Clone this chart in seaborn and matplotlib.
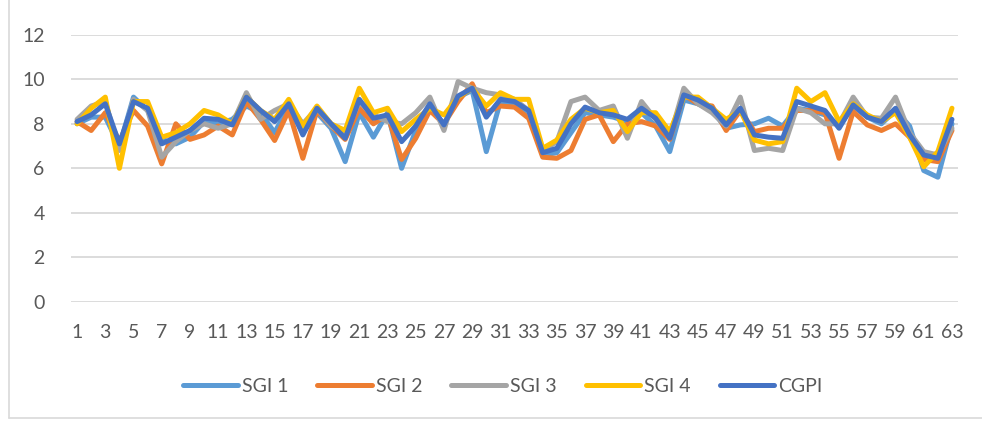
import pandas as pd
import numpy as np
import seaborn as sns
import matplotlib.pyplot as plt
from matplotlib.lines import Line2D

# Student index 1..63
students = list(range(1, 64))

sgi1 = [8.0, 8.3, 8.3, 7.0, 9.2, 8.6, 7.3, 7.1, 7.4, 8.1,
        8.0, 8.2, 8.8, 8.5, 7.6, 8.8, 7.6, 8.5, 7.8, 6.3,
        8.5, 7.4, 8.5, 6.0, 7.7, 8.7, 8.0, 9.2, 9.5, 6.75,
        9.0, 8.9, 8.5, 6.6, 6.7, 7.6, 8.5, 8.4, 8.3, 8.1,
        8.5, 7.9, 6.75, 9.07, 8.9, 8.6, 7.8, 7.95, 8.0, 8.25,
        7.9, 8.7, 8.6, 8.4, 7.9, 8.8, 8.3, 8.0, 8.6, 7.9,
        5.9, 5.6, 8.0]
sgi2 = [8.1, 7.7, 8.5, 7.2, 8.6, 7.9, 6.2, 8.0, 7.3, 7.5,
        7.9, 7.5, 9.0, 8.2, 7.25, 8.6, 6.45, 8.6, 7.9, 7.3,
        8.7, 8.0, 8.4, 6.4, 7.35, 8.6, 8.0, 9.0, 9.8, 8.5,
        8.8, 8.75, 8.25, 6.5, 6.45, 6.8, 8.2, 8.4, 7.2, 8.0,
        8.1, 7.9, 7.3, 9.3, 8.9, 8.8, 7.7, 8.6, 7.65, 7.8,
        7.8, 8.6, 8.6, 8.5, 6.45, 8.55, 7.95, 7.7, 8.0, 7.4,
        6.4, 6.3, 7.7]
sgi3 = [8.2, 8.8, 9.0, 6.8, 9.1, 8.6, 6.5, 7.2, 7.7, 8.0,
        7.8, 8.0, 9.4, 8.2, 8.6, 8.9, 8.0, 8.7, 7.9, 7.5,
        9.0, 8.4, 8.1, 8.0, 8.5, 9.2, 7.7, 9.9, 9.6, 9.4,
        9.3, 9.1, 8.6, 6.8, 7.2, 9.0, 9.2, 8.6, 8.8, 7.35,
        9.0, 8.2, 7.4, 9.6, 8.9, 8.5, 7.9, 9.2, 6.8, 6.9,
        6.8, 8.7, 8.5, 8.0, 8.0, 9.2, 8.3, 8.25, 9.2, 7.6,
        6.75, 6.6, 7.8]
sgi4 = [8.0, 8.7, 9.2, 6.0, 9.0, 9.0, 7.4, 7.6, 8.0, 8.6,
        8.4, 8.0, 9.2, 8.6, 8.2, 9.1, 7.9, 8.8, 8.0, 7.7,
        9.6, 8.5, 8.7, 7.65, 8.2, 8.7, 8.4, 9.2, 9.6, 8.8,
        9.4, 9.1, 9.1, 6.9, 7.27, 8.2, 8.7, 8.5, 8.6, 7.65,
        8.5, 8.5, 7.65, 9.2, 9.2, 8.7, 8.2, 8.6, 7.27, 7.1,
        7.2, 9.6, 9.0, 9.4, 8.1, 8.9, 8.4, 8.1, 8.5, 7.4,
        6.07, 6.75, 8.7]
cgpi = [8.1, 8.4, 8.9, 7.1, 9.0, 8.7, 7.1, 7.4, 7.7, 8.25,
        8.2, 7.95, 9.2, 8.6, 8.1, 8.9, 7.5, 8.7, 8.0, 7.35,
        9.1, 8.25, 8.4, 7.2, 7.9, 8.9, 7.95, 9.25, 9.6, 8.3,
        9.1, 9.0, 8.6, 6.7, 6.9, 8.0, 8.75, 8.5, 8.4, 8.2,
        8.7, 8.25, 7.35, 9.3, 9.07, 8.7, 7.95, 8.7, 7.5, 7.4,
        7.35, 9.0, 8.8, 8.6, 7.8, 8.85, 8.3, 8.1, 8.7, 7.5,
        6.6, 6.45, 8.2]

series_names = ["SGI 1", "SGI 2", "SGI 3", "SGI 4", "CGPI"]
colors = ["#5B9BD5", "#ED7D31", "#A5A5A5", "#FFC000", "#4472C4"]

# Long format for seaborn
df = pd.concat([
    pd.DataFrame({"student": students, "value": vals, "series": name})
    for name, vals in zip(series_names, [sgi1, sgi2, sgi3, sgi4, cgpi])
], ignore_index=True)

sns.set_style("white")
plt.rcParams["font.family"] = ["Lato", "DejaVu Sans"]

fig = plt.figure(figsize=(9.82, 4.21), dpi=100)
ax = fig.add_axes([0.0723, 0.2831, 0.9033, 0.6342])

sns.lineplot(data=df, x="student", y="value", hue="series",
             hue_order=series_names, palette=colors, linewidth=3.6,
             ax=ax, solid_capstyle="round", solid_joinstyle="round")

ax.set_xlim(0.57, 63.43)
ax.set_ylim(0, 12)
ax.set_yticks(np.arange(0, 13, 2))
ax.set_xticks(students[::2])
ax.grid(axis="y", color="#D9D9D9", linewidth=1.3)
ax.set_axisbelow(True)
for s in ax.spines.values():
    s.set_visible(False)
ax.tick_params(axis="both", length=0, labelsize=14, labelcolor="#595959")
ax.tick_params(axis="y", pad=19)
ax.tick_params(axis="x", pad=16)
ax.set_xlabel("")
ax.set_ylabel("")

handles, labels = ax.get_legend_handles_labels()
ax.get_legend().remove()
leg = fig.legend(handles, labels, loc="center", bbox_to_anchor=(0.512, 0.083),
                 ncol=5, frameon=False, fontsize=14, handlelength=2.8,
                 handletextpad=0.2, columnspacing=1.5)
for t in leg.get_texts():
    t.set_color("#595959")
for l in leg.get_lines():
    l.set_linewidth(3.6)
    l.set_solid_capstyle("round")

# light chart border (left and bottom edges visible in the crop)
fig.add_artist(Line2D([0.009, 0.009], [0.007, 1.0], transform=fig.transFigure,
                      color="#D9D9D9", linewidth=1.2))
fig.add_artist(Line2D([0.009, 1.0], [0.007, 0.007], transform=fig.transFigure,
                      color="#D9D9D9", linewidth=1.2))

fig.savefig("out.png", dpi=100)
